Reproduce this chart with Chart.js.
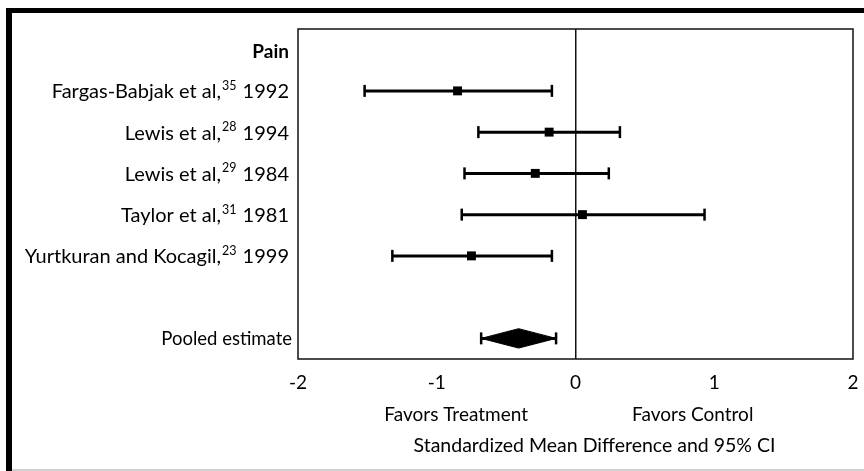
<!DOCTYPE html>
<html>
<head>
<meta charset="utf-8">
<script src="https://cdn.jsdelivr.net/npm/chart.js@4.4.1/dist/chart.umd.min.js"></script>
<style>
  html, body { margin: 0; padding: 0; background: #fff; }
  #wrap { position: relative; width: 864px; height: 471px; overflow: hidden; }
  #wrap canvas { position: absolute; left: 0; top: 0; }
  .frame-top { position: absolute; left: 6px; top: 8px; right: 0; height: 5px; background: #000; }
  .frame-left { position: absolute; left: 6px; top: 8px; bottom: 0; width: 6px; background: #000; }
  .frame-bottom { position: absolute; left: 12px; right: 0; top: 469px; height: 2px; background: #d0d0d0; }
</style>
</head>
<body>
<div id="wrap">
  <canvas id="forest" width="864" height="471"></canvas>
  <div class="frame-top"></div>
  <div class="frame-left"></div>
  <div class="frame-bottom"></div>
</div>
<script>
// studies on the pain outcome
const groupLabel = 'Pain';
const studies = ['Fargas-Babjak et al,', 'Lewis et al,', 'Lewis et al,', 'Taylor et al,', 'Yurtkuran and Kocagil,'];
const refs = ['35', '28', '29', '31', '23'];
const years = ['1992', '1994', '1984', '1981', '1999'];

// standardized mean difference with 95% CI
const smd = [-0.85, -0.19, -0.29, 0.05, -0.75];
const ciLow = [-1.52, -0.70, -0.80, -0.82, -1.32];
const ciHigh = [-0.17, 0.32, 0.24, 0.93, -0.17];

const pooledLabel = 'Pooled estimate';
const pooled = [-0.41];
const pooledLow = [-0.68];
const pooledHigh = [-0.14];

const xTicks = [-2, -1, 0, 1, 2];
const sideLabels = ['Favors Treatment', 'Favors Control'];
const sideAt = [-0.86, 0.845];
const axisTitle = 'Standardized Mean Difference and 95% CI';

const FONT = 'Lato, "Open Sans", sans-serif';
const pooledRow = studies.length + 2;
const diamondHalf = 0.235;

const datasets = [];

// CI whiskers with end caps
function ciLine(lo, hi, row) {
  return {
    showLine: true,
    data: [{ x: lo, y: row }, { x: hi, y: row }],
    borderColor: '#000',
    borderWidth: 3,
    pointStyle: 'line',
    pointRotation: 90,
    pointRadius: 6,
    pointBorderWidth: 2.5,
    pointBorderColor: '#000',
    pointHoverRadius: 6
  };
}

studies.forEach((s, i) => datasets.push(ciLine(ciLow[i], ciHigh[i], i + 1)));

datasets.push({
  data: smd.map((v, i) => ({ x: v, y: i + 1 })),
  pointStyle: 'rect',
  pointRadius: 6.3,
  pointHoverRadius: 6.3,
  backgroundColor: '#000',
  borderColor: '#000',
  borderWidth: 0
});

datasets.push(ciLine(pooledLow[0], pooledHigh[0], pooledRow));

// pooled diamond
datasets.push({
  showLine: true,
  fill: 'shape',
  data: [
    { x: pooledLow[0], y: pooledRow },
    { x: pooled[0], y: pooledRow - diamondHalf },
    { x: pooledHigh[0], y: pooledRow },
    { x: pooled[0], y: pooledRow + diamondHalf },
    { x: pooledLow[0], y: pooledRow }
  ],
  backgroundColor: '#000',
  borderColor: '#000',
  borderWidth: 1,
  pointRadius: 0,
  pointHoverRadius: 0
});

// row labels, box around the plot, favors labels and axis caption
const forestDecor = {
  id: 'forestDecor',
  afterDraw(chart) {
    const { ctx, chartArea: a, scales: { x, y } } = chart;
    ctx.save();
    ctx.strokeStyle = '#111';
    ctx.lineWidth = 1.5;
    ctx.strokeRect(a.left, a.top, a.right - a.left, a.bottom - a.top);

    ctx.fillStyle = '#000';
    ctx.textBaseline = 'middle';
    const right = a.left - 9;

    ctx.textAlign = 'right';
    ctx.font = 'bold 19px ' + FONT;
    ctx.fillText(groupLabel, right, y.getPixelForValue(0) + 2);

    const main = '20px ' + FONT;
    const sup = '12.5px ' + FONT;
    ctx.textAlign = 'left';
    studies.forEach((s, i) => {
      const py = y.getPixelForValue(i + 1) + 1;
      const tail = ' ' + years[i];
      ctx.font = main;
      const w1 = ctx.measureText(s).width;
      const w3 = ctx.measureText(tail).width;
      ctx.font = sup;
      const w2 = ctx.measureText(refs[i]).width + 2;
      let px = right - (w1 + w2 + w3);
      ctx.font = main;
      ctx.fillText(s, px, py);
      px += w1 + 1;
      ctx.font = sup;
      ctx.fillText(refs[i], px, py - 6);
      px += w2 - 1;
      ctx.font = main;
      ctx.fillText(tail, px, py);
    });

    ctx.textAlign = 'right';
    ctx.font = '18.5px ' + FONT;
    ctx.fillText(pooledLabel, right + 3, y.getPixelForValue(pooledRow) + 1);

    ctx.textAlign = 'center';
    ctx.font = '19px ' + FONT;
    sideLabels.forEach((t, i) => ctx.fillText(t, x.getPixelForValue(sideAt[i]), 415));

    ctx.font = '19.5px ' + FONT;
    ctx.fillText(axisTitle, (a.left + a.right) / 2 + 19, 446);
    ctx.restore();
  }
};

new Chart(document.getElementById('forest'), {
  type: 'scatter',
  data: { datasets },
  options: {
    responsive: false,
    animation: false,
    events: [],
    layout: { padding: { left: 298, top: 29, right: 11, bottom: 0 } },
    plugins: { legend: { display: false }, tooltip: { enabled: false } },
    scales: {
      x: {
        type: 'linear',
        min: -2,
        max: 2,
        afterBuildTicks: (scale) => { scale.ticks = xTicks.map(v => ({ value: v })); },
        afterFit: (scale) => {
          scale.height = 112;
          scale.paddingLeft = 0;
          scale.paddingRight = 0;
        },
        ticks: { color: '#000', padding: 12, font: { family: FONT, size: 19 } },
        grid: {
          drawTicks: false,
          lineWidth: 1.5,
          color: (c) => (c.tick && c.tick.value === 0 ? '#111' : 'rgba(0,0,0,0)')
        },
        border: { display: false },
        title: { display: false }
      },
      y: {
        type: 'linear',
        min: -0.5,
        max: pooledRow + 0.5,
        reverse: true,
        display: false
      }
    }
  },
  plugins: [forestDecor]
});
</script>
</body>
</html>
